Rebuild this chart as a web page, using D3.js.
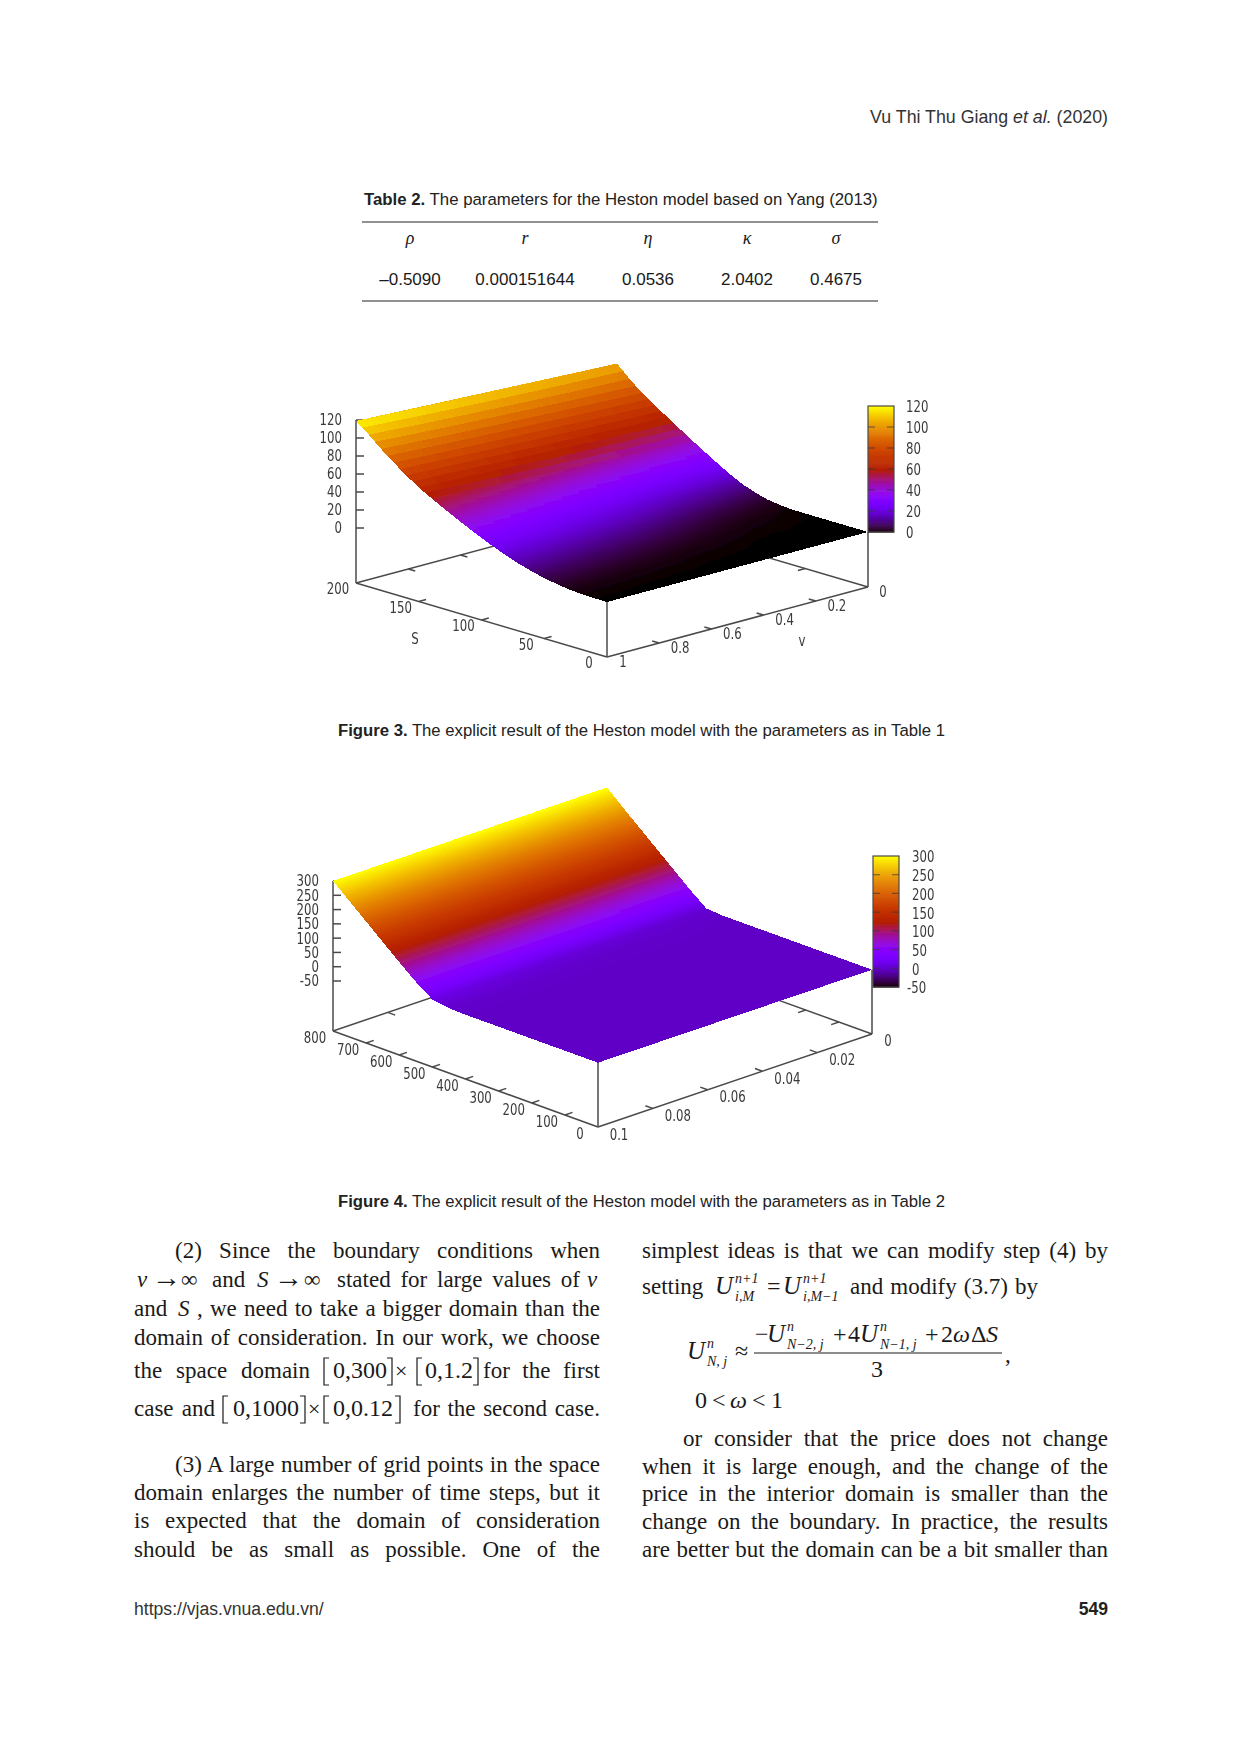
<!DOCTYPE html>
<html>
<head>
<meta charset="utf-8">
<script src="https://cdn.jsdelivr.net/npm/d3@7"></script>
<style>
  html, body { margin: 0; padding: 0; background: #fff; }
  svg { display: block; }
  .axis-text { font-family: "DejaVu Sans Condensed", "DejaVu Sans", sans-serif; font-size: 15px; fill: #3a3a3a; }
</style>
</head>
<body>
<div id="page"></div>
<script>
// ---- figure 3 values
const fig3S = [0,10,20,30,40,50,60,70,80,90,100,110,120,130,140,150,160,170,180,190,200];
const fig3V = [0,0.25,0.5,0.75,1];
const fig3Z = [
  [0,0,0,0,0,0,0.1,1.2,3,7,12,19,27,35.5,44,53,62,71,80.5,92,105],
  [0,0,0,0,0.3,0.8,1.9,3.8,6.8,11,16,22.5,30,38,46.5,55.5,64.5,74,84,95,108],
  [0,0,0.1,0.4,1.2,2.6,4.8,7.8,11.5,16,21,27,34,41.5,50,58.5,68,77.5,87.5,99,111],
  [0,0,0.3,1,2.4,4.4,7.2,10.8,15,20,25.5,32,39,46.5,54,62.5,71.5,81,91.5,103,115],
  [0,0.1,0.5,1.5,3.5,6,9.5,13.5,18.5,24,30,36.5,43.5,50.5,58,65.5,75,85,96,108,119]
];
const fig3STicks = [0,50,100,150,200];
const fig3VTicks = [0,0.2,0.4,0.6,0.8,1];
const fig3ZTicks = [0,20,40,60,80,100,120];

// ---- figure 4 values
const fig4S = [0,50,100,150,200,250,300,350,400,450,500,550,600,650,700,750,800];
const fig4V = [0,0.05,0.1];
const fig4Z = [
  [0,0,0,0,0,0,0,0,0,0,4,50,100,150,200,250,302],
  [0,0,0,0,0,0,0,0,0,1,7,51,100,150,200,250,301],
  [0,0,0,0,0,0,0,0,0,2,11,52,100,150,200,250,300]
];
const fig4STicks = [0,100,200,300,400,500,600,700,800];
const fig4VTicks = [0,0.02,0.04,0.06,0.08,0.1];
const fig4ZTicks = [-50,0,50,100,150,200,250,300];

// ---- table 2
const tableSymbols = ["ρ","r","η","κ","σ"];
const tableValues = ["–0.5090","0.000151644","0.0536","2.0402","0.4675"];

// ---- body text
const leftColumnEnd = ["domain of consideration. In our work, we choose"];
const leftPara3 = [
  "(3) A large number of grid points in the space",
  "domain enlarges the number of time steps, but it",
  "is expected that the domain of consideration",
  "should be as small as possible. One of the"
];
const rightPara = [
  "or consider that the price does not change",
  "when it is large enough, and the change of the",
  "price in the interior domain is smaller than the",
  "change on the boundary. In practice, the results",
  "are better but the domain can be a bit smaller than"
];

const width = 1240, height = 1754;
const svg = d3.select("#page").append("svg").attr("width", width).attr("height", height);

svg.append("defs").append("filter").attr("id", "soft")
  .attr("x", "-5%").attr("y", "-5%").attr("width", "110%").attr("height", "110%")
  .append("feGaussianBlur").attr("stdDeviation", 0.6);

// gnuplot default pm3d palette (rgbformulae 7,5,15)
function gnuplotPalette(t) {
  const r = Math.sqrt(t), g = t * t * t, b = Math.max(0, Math.sin(2 * Math.PI * t));
  return d3.rgb(255 * r, 255 * g, 255 * b) + "";
}

function draw3d(cfg) {
  const g = svg.append("g").attr("filter", "url(#soft)");
  const sMax = d3.max(cfg.s), vMax = d3.max(cfg.v);
  const sFrac = d3.scaleLinear().domain([0, sMax]).range([0, 1]);
  const vFrac = d3.scaleLinear().domain([vMax, 0]).range([0, 1]);
  const zPx = d3.scaleLinear().domain(cfg.zRange).range(cfg.zPixels);
  const color = d3.scaleSequential(gnuplotPalette).domain(cfg.cRange);

  const F = cfg.front, L = cfg.left, R = cfg.right;
  const xAt = (s, v) => F[0] + (L[0] - F[0]) * sFrac(s) + (R[0] - F[0]) * vFrac(v);
  const yAt = (s, v) => F[1] + (L[1] - F[1]) * sFrac(s) + (R[1] - F[1]) * vFrac(v);
  // zPx is measured on the left upright, so shift by base height difference
  const pt = (s, v, z) => [xAt(s, v), yAt(s, v) - (L[1] - zPx(z))];
  const base = (s, v) => [xAt(s, v), yAt(s, v)];

  const axisColor = "#4a4a4a";
  const line = (a, b, w) => g.append("line")
    .attr("x1", a[0]).attr("y1", a[1]).attr("x2", b[0]).attr("y2", b[1])
    .attr("stroke", axisColor).attr("stroke-width", w || 1.5);
  // narrow tick labels, the original font is much narrower than what is installed
  const label = (t, x, y, anchor) => g.append("text").attr("class", "axis-text")
    .attr("text-anchor", anchor || "middle").attr("dy", "0.36em")
    .attr("transform", `translate(${x},${y}) scale(0.87,1)`).text(t);

  // base frame
  line(base(sMax, vMax), base(sMax, 0));
  line(base(sMax, 0), base(0, 0));
  line(base(sMax, vMax), base(0, vMax));
  line(base(0, vMax), base(0, 0));

  // ticks on the four base edges, pointing inwards
  const tickS = sMax * 0.028, tickV = vMax * 0.028;
  cfg.sTicks.filter(d => d > 0 && d < sMax).forEach(d => {
    line(base(d, vMax), base(d, vMax - tickV));
    line(base(d, 0), base(d, tickV));
  });
  cfg.vTicks.filter(d => d > 0 && d < vMax).forEach(d => {
    line(base(0, d), base(tickS, d));
    line(base(sMax, d), base(sMax - tickS, d));
  });

  // z axis and uprights
  line(base(sMax, vMax), [L[0], zPx(cfg.zRange[1])]);
  cfg.zTicks.forEach(d => {
    line([L[0], zPx(d)], [L[0] + 8, zPx(d)]);
    label(d, cfg.zLabelX, zPx(d), "end");
  });
  const zRowS = i => d3.scaleLinear().domain(cfg.s).range(cfg.z[i]);
  line(base(0, 0), pt(0, 0, zRowS(0)(0)));
  line(base(0, vMax), pt(0, vMax, zRowS(cfg.v.length - 1)(0)));

  // surface, painted from the back corner forward
  const rows = cfg.v.map((d, i) => zRowS(i));
  const zAt = (s, v) => d3.scaleLinear().domain(cfg.v).range(rows.map(f => f(s)))(v);
  const sMesh = cfg.sMesh.slice().reverse();
  const vMesh = d3.range(cfg.meshV + 1).map(i => vMax * i / cfg.meshV);
  const cells = [];
  d3.pairs(sMesh).forEach(([s1, s0]) => {
    d3.pairs(vMesh).forEach(([v0, v1]) => {
      const zs = [zAt(s0, v0), zAt(s1, v0), zAt(s1, v1), zAt(s0, v1)];
      cells.push({
        pts: [pt(s0, v0, zs[0]), pt(s1, v0, zs[1]), pt(s1, v1, zs[2]), pt(s0, v1, zs[3])],
        c: color(d3.mean(zs))
      });
    });
  });
  // whole-row strips underneath, in case the cells leave a pixel uncovered
  const strips = d3.pairs(sMesh).map(([s1, s0]) => ({
    pts: [pt(s0, 0, zAt(s0, 0)), pt(s1, 0, zAt(s1, 0)), pt(s1, vMax, zAt(s1, vMax)), pt(s0, vMax, zAt(s0, vMax))],
    c: color((zAt(s0, vMax / 2) + zAt(s1, vMax / 2)) / 2)
  }));
  // crisp edges so neighbouring cells leave no seams, the group blur softens the outline
  g.append("g").attr("shape-rendering", "crispEdges")
    .selectAll("polygon").data(strips.concat(cells)).enter().append("polygon")
    .attr("points", d => d.pts.join(" "))
    .attr("fill", d => d.c);

  // tick labels
  const offS = cfg.sLabelOffset, offV = cfg.vLabelOffset;
  cfg.sTicks.forEach(d => {
    const p = base(d, vMax);
    label(d, p[0] + offS[0], p[1] + offS[1]);
  });
  cfg.vTicks.forEach(d => {
    const p = base(0, d);
    const o = d === 0 ? cfg.vZeroOffset : d === vMax ? cfg.vEndOffset : offV;
    label(d, p[0] + o[0], p[1] + o[1]);
  });
  (cfg.axisNames || []).forEach(d => label(d.t, d.x, d.y));

  // colour bar
  const barY = d3.scaleLinear().domain(cfg.cRange).range(cfg.barPixels);
  const steps = d3.range(0, 131).map(i => cfg.cRange[0] + (cfg.cRange[1] - cfg.cRange[0]) * i / 130);
  g.append("g").selectAll("rect").data(d3.pairs(steps)).enter().append("rect")
    .attr("x", cfg.barX[0]).attr("width", cfg.barX[1] - cfg.barX[0])
    .attr("y", d => barY(d[1])).attr("height", d => barY(d[0]) - barY(d[1]) + 0.6)
    .attr("fill", d => color((d[0] + d[1]) / 2));
  g.append("rect").attr("x", cfg.barX[0]).attr("width", cfg.barX[1] - cfg.barX[0])
    .attr("y", barY(cfg.cRange[1])).attr("height", barY(cfg.cRange[0]) - barY(cfg.cRange[1]))
    .attr("fill", "none").attr("stroke", axisColor).attr("stroke-width", 1.2);
  cfg.zTicks.forEach(d => {
    if (d > cfg.cRange[0] && d < cfg.cRange[1]) {
      [[cfg.barX[0], cfg.barX[0] + 7], [cfg.barX[1] - 7, cfg.barX[1]]].forEach(e => {
        g.append("line").attr("x1", e[0]).attr("x2", e[1]).attr("y1", barY(d)).attr("y2", barY(d))
          .attr("stroke", "#333").attr("stroke-opacity", 0.6).attr("stroke-width", 1.2);
      });
    }
    label(d, cfg.barLabelX - (d < 0 ? 5 : 0), barY(d) + 1, "start");
  });
}

draw3d({
  s: fig3S, v: fig3V, z: fig3Z, sTicks: fig3STicks, vTicks: fig3VTicks, zTicks: fig3ZTicks,
  zRange: [0, 120], zPixels: [528, 420], cRange: [0, 120],
  front: [607, 657], left: [356, 583], right: [868, 587],
  zLabelX: 342, meshV: 40,
  // the source grid only shows as bands in the upper part of the surface
  sMesh: d3.range(0, 140, 2).concat(d3.range(140, 200.1, 5)),
  sLabelOffset: [-18, 6], vLabelOffset: [21, 5], vZeroOffset: [15, 5], vEndOffset: [16, 5],
  axisNames: [{ t: "S", x: 415, y: 639 }, { t: "v", x: 802, y: 641 }],
  barX: [868, 894], barPixels: [532, 406], barLabelX: 906
});

draw3d({
  s: fig4S, v: fig4V, z: fig4Z, sTicks: fig4STicks, vTicks: fig4VTicks, zTicks: fig4ZTicks,
  zRange: [-50, 300], zPixels: [981, 881], cRange: [-50, 300],
  front: [598, 1127], left: [333, 1031], right: [872, 1034],
  zLabelX: 319, meshV: 20,
  sMesh: d3.range(0, 800.1, 5),
  sLabelOffset: [-18, 7], vLabelOffset: [25, 7], vZeroOffset: [16, 7], vEndOffset: [21, 8],
  barX: [873, 899], barPixels: [987, 856], barLabelX: 912
});

// ---- page text helpers
const sans = "'Liberation Sans', Arial, sans-serif";
const serif = "'Liberation Serif', 'Times New Roman', serif";

function put(t, x, y, o) {
  o = o || {};
  return svg.append("text").attr("x", x).attr("y", y)
    .attr("font-family", o.family || serif).attr("font-size", o.size || 23)
    .attr("font-style", o.italic ? "italic" : null).attr("font-weight", o.bold ? "bold" : null)
    .attr("text-anchor", o.anchor || null).attr("fill", o.fill || "#1a1a1a").text(t);
}
function justify(t, x0, x1, y, o) {
  const el = put(t, x0, y, o);
  const gaps = t.split(" ").length - 1;
  if (gaps) el.attr("word-spacing", (x1 - x0 - el.node().getComputedTextLength()) / gaps);
  return el;
}
function runs(parts, x, y, o) {
  const el = put("", x, y, o);
  parts.forEach(p => el.append("tspan").attr("font-style", p.i ? "italic" : null)
    .attr("font-weight", p.b ? "bold" : null).text(p.t));
  return el;
}

// header
runs([{ t: "Vu Thi Thu Giang " }, { t: "et al.", i: 1 }, { t: " (2020)" }], 1108, 123,
  { family: sans, size: 17.8, anchor: "end", fill: "#333" });

// table 2
runs([{ t: "Table 2.", b: 1 }, { t: " The parameters for the Heston model based on Yang (2013)" }], 364, 205,
  { family: sans, size: 16.8, fill: "#222" });
[222, 301].forEach(y => svg.append("line").attr("x1", 362).attr("x2", 878).attr("y1", y).attr("y2", y)
  .attr("stroke", "#222").attr("stroke-width", 1));
const tableX = d3.scaleOrdinal().domain(tableValues).range([410, 525, 648, 747, 836]);
tableValues.forEach((d, i) => {
  put(tableSymbols[i], tableX(d), 244, { family: serif, size: 18, italic: 1, anchor: "middle" });
  put(d, tableX(d), 285, { family: sans, size: 17, anchor: "middle" });
});

// figure captions
runs([{ t: "Figure 3.", b: 1 }, { t: " The explicit result of the Heston model with the parameters as in Table 1" }], 338, 736,
  { family: sans, size: 16.7, fill: "#222" });
runs([{ t: "Figure 4.", b: 1 }, { t: " The explicit result of the Heston model with the parameters as in Table 2" }], 338, 1207,
  { family: sans, size: 16.7, fill: "#222" });

// left column
justify("(2) Since the boundary conditions when", 175, 600, 1258);
put("v", 137, 1287, { italic: 1 }); put("→", 152, 1287, { size: 29 }); put("∞", 181, 1287);
put("and", 212, 1287);
put("S", 257, 1287, { italic: 1 }); put("→", 274, 1287, { size: 29 }); put("∞", 304, 1287);
justify("stated for large values of", 337, 580, 1287);
put("v", 587, 1287, { italic: 1 });
put("and", 134, 1316); put("S", 178, 1316, { italic: 1 });
justify(", we need to take a bigger domain than the", 197, 600, 1316);
justify(leftColumnEnd[0], 134, 600, 1345);
justify("the space domain", 134, 310, 1378);
function bracket(x, y, h, dir) {
  const w = 5 * dir;
  svg.append("path").attr("d", `M${x + w},${y - h} H${x} V${y + 7} H${x + w}`)
    .attr("fill", "none").attr("stroke", "#1a1a1a").attr("stroke-width", 1.2);
}
bracket(324, 1378, 20, 1); put("0,300", 333, 1378, { size: 24 }); bracket(392, 1378, 20, -1);
put("×", 395, 1378, { size: 22 });
bracket(417, 1378, 20, 1); put("0,1.2", 425, 1378, { size: 24 }); bracket(478, 1378, 20, -1);
justify("for the first", 483, 600, 1378);
justify("case and", 134, 215, 1416);
bracket(223, 1416, 20, 1); put("0,1000", 233, 1416, { size: 24 }); bracket(305, 1416, 20, -1);
put("×", 308, 1416, { size: 22 });
bracket(324, 1416, 20, 1); put("0,0.12", 333, 1416, { size: 24 }); bracket(400, 1416, 20, -1);
justify("for the second case.", 413, 600, 1416);
leftPara3.forEach((d, i) => justify(d, i ? 134 : 175, 600, [1472, 1500, 1528, 1557][i]));

// right column
justify("simplest ideas is that we can modify step (4) by", 642, 1108, 1258);
put("setting", 642, 1294);
function U(x, y, sup, sub, sx) {
  put("U", x, y, { italic: 1, size: 25 });
  put(sup, x + (sx || 20), y - 11, { italic: 1, size: 14 });
  put(sub, x + (sx || 20), y + 7, { italic: 1, size: 14 });
}
U(715, 1294, "n+1", "i,M"); put("=", 767, 1294, { size: 24 }); U(783, 1294, "n+1", "i,M−1");
justify("and modify (3.7) by", 850, 1038, 1294);
U(687, 1359, "n", "N, j");
put("≈", 735, 1359, { size: 24 });
svg.append("line").attr("x1", 754).attr("x2", 1002).attr("y1", 1353).attr("y2", 1353)
  .attr("stroke", "#1a1a1a").attr("stroke-width", 1);
put("−", 755, 1342, { size: 24 }); U(767, 1342, "n", "N−2, j");
put("+", 833, 1342, { size: 24 });
put("4", 848, 1342, { size: 24 }); U(860, 1342, "n", "N−1, j");
put("+", 925, 1342, { size: 24 });
put("2", 941, 1342, { size: 24 }); put("ω", 953, 1342, { size: 24, italic: 1 });
put("Δ", 971, 1342, { size: 24 }); put("S", 986, 1342, { size: 24, italic: 1 });
put("3", 877, 1377, { size: 24, anchor: "middle" });
put(",", 1005, 1362);
put("0", 695, 1408, { size: 24 }); put("<", 712, 1408, { size: 24 });
put("ω", 730, 1408, { size: 24, italic: 1 });
put("<", 752, 1408, { size: 24 }); put("1", 771, 1408, { size: 24 });
rightPara.forEach((d, i) => justify(d, i ? 642 : 683, 1108, [1446, 1474, 1501, 1529, 1557][i]));

// footer
put("https://vjas.vnua.edu.vn/", 134, 1615, { family: sans, size: 17.6, fill: "#333" });
put("549", 1108, 1615, { family: sans, size: 17.6, bold: 1, anchor: "end", fill: "#222" });
</script>
</body>
</html>
